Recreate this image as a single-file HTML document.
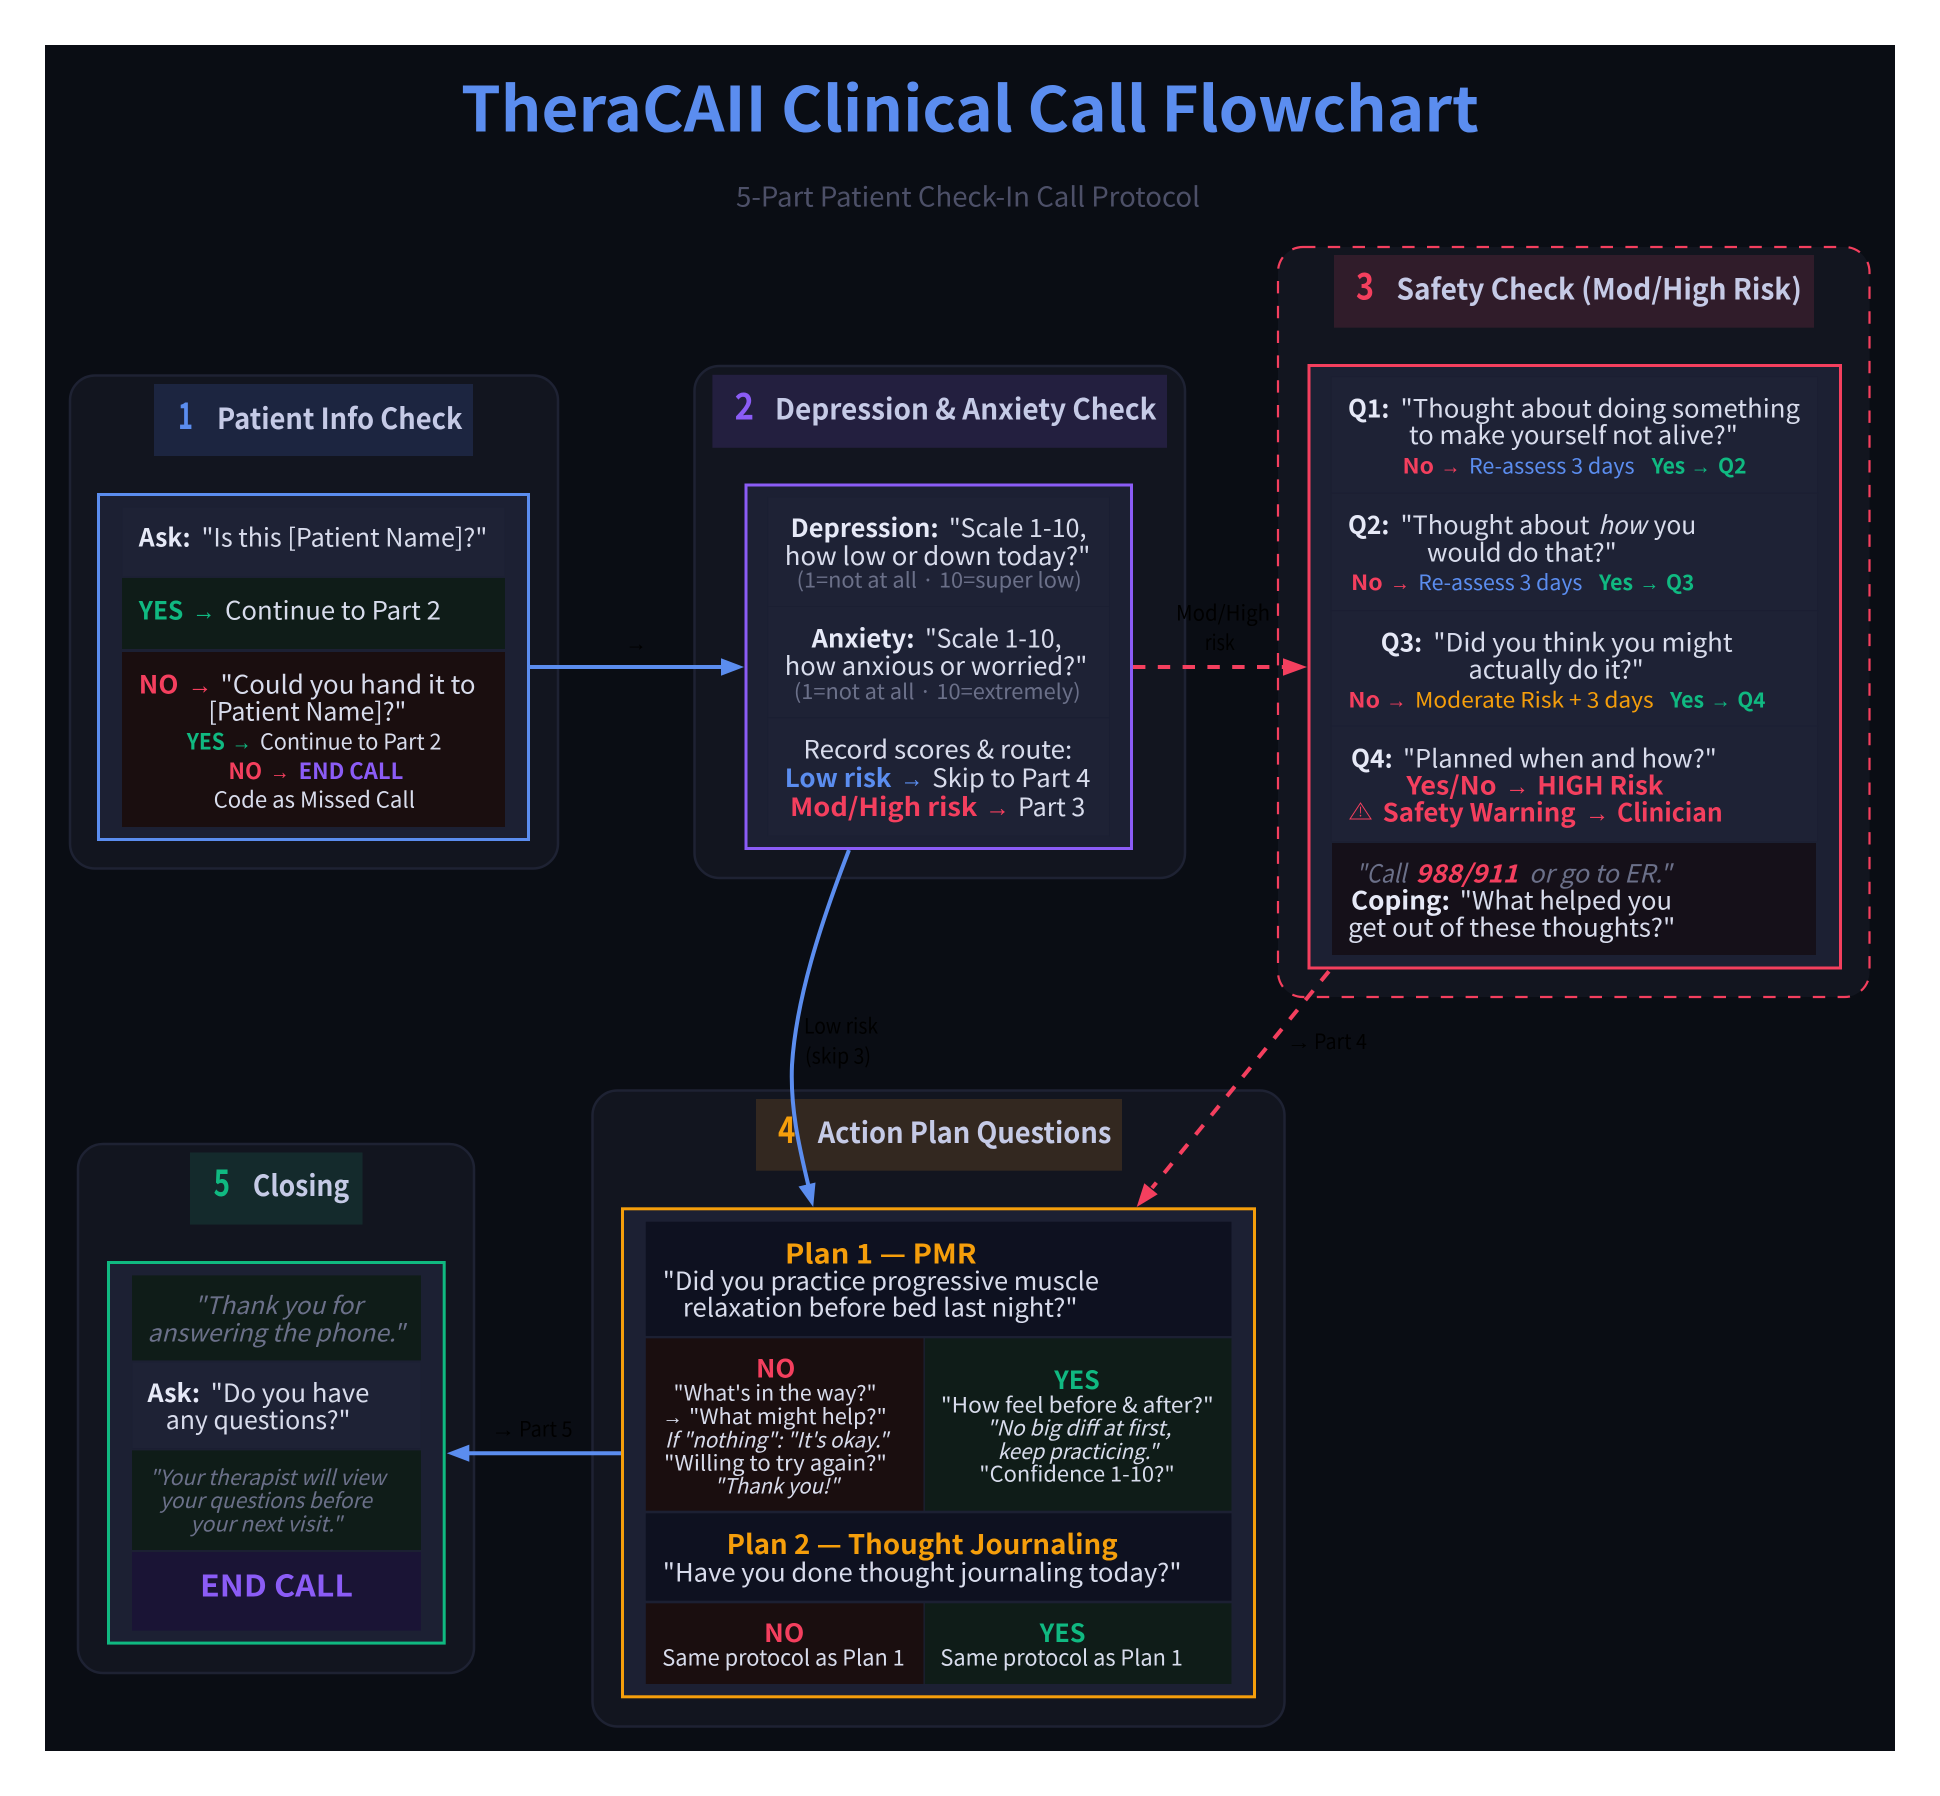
<!DOCTYPE html>
<html><head><meta charset="utf-8"><title>TheraCAII Clinical Call Flowchart</title>
<style>
html,body{margin:0;padding:0;background:#fff}
svg{display:block}
text{font-family:"Noto Sans CJK JP","Liberation Sans",sans-serif;font-size:25px;fill:#d8dcec;white-space:pre;transform:translateY(.6px)}
.b{font-weight:700;fill:#e6e9f7}
.i{font-style:italic}
.s{font-size:22px}
.t{font-size:21px}
.h{font-size:29px;font-weight:700;fill:#c5cae6}
.n{font-size:37px;font-weight:700}
.a{font-family:"Liberation Sans",sans-serif}
.g{fill:#6b7089}
.R{fill:#f43f5e;font-weight:700}
.G{fill:#10b981;font-weight:700}
.P{fill:#8b5cf6;font-weight:700}
.O{fill:#f59e0b;font-weight:700}
.BL{fill:#5b8def;font-weight:700}
.ar{fill:#f43f5e}.ag{fill:#10b981}.ab{fill:#5b8def}
.rb{fill:#5b8def}.ro{fill:#f59e0b}
.e{font-size:21px;fill:#000}
.cl{fill:#12151f;stroke:#1e2233;stroke-width:2.5}
.cell{fill:#1e2235;stroke:#1b1f32;stroke-width:1}
</style></head><body>
<svg xmlns="http://www.w3.org/2000/svg" width="1940" height="1796" viewBox="0 0 1940 1796">
<rect x="0" y="0" width="1940" height="1796" fill="#fff"/>
<rect x="45" y="45" width="1850" height="1706" fill="#0a0d14"/>

<text x="461" y="131" textLength="1018" lengthAdjust="spacingAndGlyphs" style="font-size:62px;font-weight:700;fill:#5b8def">TheraCAII Clinical Call Flowchart</text>
<text x="736" y="205.7" textLength="464" lengthAdjust="spacingAndGlyphs" style="font-size:27px;fill:#4d5068">5-Part Patient Check-In Call Protocol</text>

<!-- Panel 1 -->
<rect class="cl" x="70" y="375.5" width="488" height="493" rx="25"/>
<rect x="154" y="384" width="319" height="72" fill="#1c2540"/>
<text class="n" x="178" y="428.5" textLength="15" lengthAdjust="spacingAndGlyphs" style="fill:#5b8def">1</text>
<text class="h" x="217" y="428.5" textLength="245.5" lengthAdjust="spacingAndGlyphs">Patient Info Check</text>
<rect x="98.5" y="494.5" width="430" height="345" fill="#1c2033" stroke="#5b8def" stroke-width="3"/>
<rect class="cell" x="122" y="507" width="383" height="70"/>
<rect x="122" y="578" width="383" height="71" fill="#0f1c18"/>
<rect x="122" y="652" width="383" height="175" fill="#1a0e0f"/>
<text class="b" x="138.8" y="546" textLength="51.7" lengthAdjust="spacingAndGlyphs">Ask:</text>
<text x="201.5" y="546" textLength="285.8" lengthAdjust="spacingAndGlyphs">"Is this [Patient Name]?"</text>
<text class="G" x="138.8" y="618.7" textLength="44.5" lengthAdjust="spacingAndGlyphs">YES</text>
<text class="a ag" x="192.3" y="618.7" textLength="23.2" lengthAdjust="spacingAndGlyphs">→</text>
<text x="225" y="618.7" textLength="215.9" lengthAdjust="spacingAndGlyphs">Continue to Part 2</text>
<text class="R" x="138.8" y="692.7" textLength="39.6" lengthAdjust="spacingAndGlyphs">NO</text>
<text class="a ar" x="187.9" y="692.7" textLength="24.3" lengthAdjust="spacingAndGlyphs">→</text>
<text x="220.5" y="692.7" textLength="255.1" lengthAdjust="spacingAndGlyphs">"Could you hand it to</text>
<text x="208.4" y="720" textLength="198" lengthAdjust="spacingAndGlyphs">[Patient Name]?"</text>
<text class="G s" x="186.7" y="749" textLength="38.2" lengthAdjust="spacingAndGlyphs">YES</text>
<text class="a ag s" x="231.6" y="749" textLength="20" lengthAdjust="spacingAndGlyphs">→</text>
<text class="s" x="260" y="749" textLength="181.5" lengthAdjust="spacingAndGlyphs">Continue to Part 2</text>
<text class="R s" x="228.4" y="778.3" textLength="33.7" lengthAdjust="spacingAndGlyphs">NO</text>
<text class="a ar s" x="270" y="778.3" textLength="19.6" lengthAdjust="spacingAndGlyphs">→</text>
<text class="P s" x="298.6" y="778.3" textLength="104.7" lengthAdjust="spacingAndGlyphs">END CALL</text>
<text class="s" x="213.6" y="807" textLength="201.4" lengthAdjust="spacingAndGlyphs">Code as Missed Call</text>

<!-- Panel 2 -->
<rect class="cl" x="694.5" y="366" width="490.5" height="512" rx="25"/>
<rect x="712.4" y="374.8" width="454.6" height="73" fill="#231f3f"/>
<text class="n" x="734.6" y="418.7" textLength="19.4" lengthAdjust="spacingAndGlyphs" style="fill:#8b5cf6">2</text>
<text class="h" x="775" y="418.7" textLength="381.5" lengthAdjust="spacingAndGlyphs">Depression &amp; Anxiety Check</text>
<rect x="746" y="485" width="385.5" height="363.5" fill="#1c2033" stroke="#8b5cf6" stroke-width="3"/>
<rect class="cell" x="767.8" y="497" width="341.6" height="109.5"/>
<rect class="cell" x="767.8" y="606.5" width="341.6" height="111.3"/>
<rect class="cell" x="767.8" y="717.8" width="341.6" height="118.2"/>
<text class="b" x="790.7" y="536.6" textLength="147.9" lengthAdjust="spacingAndGlyphs">Depression:</text>
<text x="948.9" y="536.6" textLength="137.6" lengthAdjust="spacingAndGlyphs">"Scale 1-10,</text>
<text x="784.8" y="564.2" textLength="305.6" lengthAdjust="spacingAndGlyphs">how low or down today?"</text>
<text class="t g" x="796.6" y="587" textLength="285.1" lengthAdjust="spacingAndGlyphs">(1=not at all · 10=super low)</text>
<text class="b" x="811.7" y="646.8" textLength="102.8" lengthAdjust="spacingAndGlyphs">Anxiety:</text>
<text x="925" y="646.8" textLength="136.6" lengthAdjust="spacingAndGlyphs">"Scale 1-10,</text>
<text x="784.8" y="674.4" textLength="302.5" lengthAdjust="spacingAndGlyphs">how anxious or worried?"</text>
<text class="t g" x="793.9" y="698.5" textLength="286.7" lengthAdjust="spacingAndGlyphs">(1=not at all · 10=extremely)</text>
<text x="803.4" y="757.7" textLength="268.8" lengthAdjust="spacingAndGlyphs">Record scores &amp; route:</text>
<text class="BL" x="784.8" y="786.6" textLength="106.7" lengthAdjust="spacingAndGlyphs">Low risk</text>
<text class="a ab" x="900.4" y="786.6" textLength="23" lengthAdjust="spacingAndGlyphs">→</text>
<text x="932.3" y="786.6" textLength="158.1" lengthAdjust="spacingAndGlyphs">Skip to Part 4</text>
<text class="R" x="790" y="815.6" textLength="187.4" lengthAdjust="spacingAndGlyphs">Mod/High risk</text>
<text class="a ar" x="985.2" y="815.6" textLength="24.6" lengthAdjust="spacingAndGlyphs">→</text>
<text x="1018" y="815.6" textLength="67.3" lengthAdjust="spacingAndGlyphs">Part 3</text>

<!-- Panel 3 -->
<rect x="1278" y="247" width="591.5" height="750" rx="25" fill="#12151f" stroke="#f43f5e" stroke-width="2.2" stroke-dasharray="12.4 12.4"/>
<rect x="1334" y="255" width="480" height="72.7" fill="#301c2a"/>
<text class="n" x="1356" y="298.8" textLength="18" lengthAdjust="spacingAndGlyphs" style="fill:#f43f5e">3</text>
<text class="h" x="1396.5" y="298.8" textLength="405.3" lengthAdjust="spacingAndGlyphs">Safety Check (Mod/High Risk)</text>
<rect x="1309" y="365.5" width="531.5" height="602.5" fill="#1c2033" stroke="#f43f5e" stroke-width="3"/>
<rect class="cell" x="1331.3" y="376.7" width="486.3" height="116.6"/>
<rect class="cell" x="1331.3" y="493.3" width="486.3" height="117.4"/>
<rect class="cell" x="1331.3" y="610.7" width="486.3" height="115.3"/>
<rect class="cell" x="1331.3" y="726" width="486.3" height="115.7"/>
<rect x="1332" y="843" width="484" height="112" fill="#151019"/>

<text class="b" x="1348" y="416.7" textLength="41.4" lengthAdjust="spacingAndGlyphs">Q1:</text>
<text x="1400.5" y="416.7" textLength="399.5" lengthAdjust="spacingAndGlyphs">"Thought about doing something</text>
<text x="1409" y="443.3" textLength="328.8" lengthAdjust="spacingAndGlyphs">to make yourself not alive?"</text>
<text class="R t" x="1402.5" y="472.7" textLength="31.5" lengthAdjust="spacingAndGlyphs">No</text>
<text class="a ar t" x="1440.4" y="472.7" textLength="20" lengthAdjust="spacingAndGlyphs">→</text>
<text class="rb t" x="1469" y="472.7" textLength="165.6" lengthAdjust="spacingAndGlyphs">Re-assess 3 days</text>
<text class="G t" x="1651.6" y="472.7" textLength="33.6" lengthAdjust="spacingAndGlyphs">Yes</text>
<text class="a ag t" x="1690.4" y="472.7" textLength="20.3" lengthAdjust="spacingAndGlyphs">→</text>
<text class="G t" x="1718" y="472.7" textLength="28.5" lengthAdjust="spacingAndGlyphs">Q2</text>

<text class="b" x="1348" y="533.3" textLength="41.4" lengthAdjust="spacingAndGlyphs">Q2:</text>
<text x="1400.5" y="533.3" textLength="189" lengthAdjust="spacingAndGlyphs">"Thought about</text>
<text class="i" x="1598.2" y="533.3" textLength="48.2" lengthAdjust="spacingAndGlyphs">how</text>
<text x="1653.6" y="533.3" textLength="42.7" lengthAdjust="spacingAndGlyphs">you</text>
<text x="1427" y="560.7" textLength="189.8" lengthAdjust="spacingAndGlyphs">would do that?"</text>
<text class="R t" x="1351" y="589.3" textLength="31.7" lengthAdjust="spacingAndGlyphs">No</text>
<text class="a ar t" x="1390" y="589.3" textLength="19.7" lengthAdjust="spacingAndGlyphs">→</text>
<text class="rb t" x="1418.3" y="589.3" textLength="164.1" lengthAdjust="spacingAndGlyphs">Re-assess 3 days</text>
<text class="G t" x="1599" y="589.3" textLength="34" lengthAdjust="spacingAndGlyphs">Yes</text>
<text class="a ag t" x="1639.4" y="589.3" textLength="19.8" lengthAdjust="spacingAndGlyphs">→</text>
<text class="G t" x="1666" y="589.3" textLength="28.3" lengthAdjust="spacingAndGlyphs">Q3</text>

<text class="b" x="1380.7" y="650.7" textLength="41.5" lengthAdjust="spacingAndGlyphs">Q3:</text>
<text x="1433.3" y="650.7" textLength="299.3" lengthAdjust="spacingAndGlyphs">"Did you think you might</text>
<text x="1468.5" y="677.7" textLength="175.2" lengthAdjust="spacingAndGlyphs">actually do it?"</text>
<text class="R t" x="1348.3" y="706.7" textLength="31.7" lengthAdjust="spacingAndGlyphs">No</text>
<text class="a ar t" x="1386" y="706.7" textLength="20.4" lengthAdjust="spacingAndGlyphs">→</text>
<text class="ro t" x="1415" y="706.7" textLength="238.6" lengthAdjust="spacingAndGlyphs">Moderate Risk + 3 days</text>
<text class="G t" x="1670" y="706.7" textLength="34" lengthAdjust="spacingAndGlyphs">Yes</text>
<text class="a ag t" x="1710.4" y="706.7" textLength="20.3" lengthAdjust="spacingAndGlyphs">→</text>
<text class="G t" x="1737.4" y="706.7" textLength="28.1" lengthAdjust="spacingAndGlyphs">Q4</text>

<text class="b" x="1351" y="766.7" textLength="41.6" lengthAdjust="spacingAndGlyphs">Q4:</text>
<text x="1403" y="766.7" textLength="313.8" lengthAdjust="spacingAndGlyphs">"Planned when and how?"</text>
<text class="R" x="1406.4" y="794" textLength="90.2" lengthAdjust="spacingAndGlyphs">Yes/No</text>
<text class="a ar" x="1505.3" y="794" textLength="24" lengthAdjust="spacingAndGlyphs">→</text>
<text class="R" x="1537.3" y="794" textLength="126.1" lengthAdjust="spacingAndGlyphs">HIGH Risk</text>
<path d="M1360.5,803 L1371,819 L1350,819 Z" fill="none" stroke="#f43f5e" stroke-width="1"/>
<text x="1358.6" y="816" style="font-size:13px;fill:#f43f5e" textLength="3.8" lengthAdjust="spacingAndGlyphs">!</text>
<text class="R" x="1382.7" y="820.7" textLength="193" lengthAdjust="spacingAndGlyphs">Safety Warning</text>
<text class="a ar" x="1585.2" y="820.7" textLength="23.9" lengthAdjust="spacingAndGlyphs">→</text>
<text class="R" x="1617" y="820.7" textLength="105.7" lengthAdjust="spacingAndGlyphs">Clinician</text>

<text class="i g" x="1355.8" y="881.7" textLength="50.6" lengthAdjust="spacingAndGlyphs">"Call</text>
<text class="R i" x="1415.5" y="881.7" textLength="102.5" lengthAdjust="spacingAndGlyphs">988/911</text>
<text class="i g" x="1529" y="881.7" textLength="142.3" lengthAdjust="spacingAndGlyphs">or go to ER."</text>
<text class="b" x="1351" y="909" textLength="99" lengthAdjust="spacingAndGlyphs">Coping:</text>
<text x="1459.8" y="909" textLength="212.2" lengthAdjust="spacingAndGlyphs">"What helped you</text>
<text x="1348" y="935.7" textLength="327.3" lengthAdjust="spacingAndGlyphs">get out of these thoughts?"</text>

<!-- Panel 4 -->
<rect class="cl" x="592.5" y="1090.5" width="692" height="636" rx="25"/>
<rect x="756" y="1099" width="366" height="71.7" fill="#332820"/>
<text class="n" x="778" y="1142.2" textLength="17.4" lengthAdjust="spacingAndGlyphs" style="fill:#f59e0b">4</text>
<text class="h" x="817.7" y="1142.2" textLength="293.7" lengthAdjust="spacingAndGlyphs">Action Plan Questions</text>
<rect x="622.5" y="1208.8" width="632" height="488" fill="#1c2033" stroke="#f59e0b" stroke-width="3"/>
<rect x="645.8" y="1221.7" width="585.7" height="114.3" fill="#0e1120"/>
<rect x="645.8" y="1338.3" width="277.7" height="172.4" fill="#1a0e0f"/>
<rect x="924.8" y="1338.3" width="306.7" height="172.4" fill="#0f1c18"/>
<rect x="645.8" y="1513.3" width="585.7" height="87.4" fill="#0e1120"/>
<rect x="645.8" y="1603.3" width="277.7" height="80.7" fill="#1a0e0f"/>
<rect x="924.8" y="1603.3" width="306.7" height="80.7" fill="#0f1c18"/>

<text class="O" x="785" y="1262.7" textLength="191.6" lengthAdjust="spacingAndGlyphs" style="font-size:27px">Plan 1 — PMR</text>
<text x="662.8" y="1289.3" textLength="436.2" lengthAdjust="spacingAndGlyphs">"Did you practice progressive muscle</text>
<text x="682.9" y="1316" textLength="394.6" lengthAdjust="spacingAndGlyphs">relaxation before bed last night?"</text>
<text class="R" x="756" y="1376.7" textLength="39.4" lengthAdjust="spacingAndGlyphs">NO</text>
<text class="t" x="673.5" y="1400" textLength="203.1" lengthAdjust="spacingAndGlyphs">"What's in the way?"</text>
<text class="a t" x="662.3" y="1423.3" textLength="20.5" lengthAdjust="spacingAndGlyphs">→</text>
<text class="t" x="689" y="1423.3" textLength="197.9" lengthAdjust="spacingAndGlyphs">"What might help?"</text>
<text class="t i" x="665" y="1446.7" textLength="223.2" lengthAdjust="spacingAndGlyphs">If "nothing": "It's okay."</text>
<text class="t" x="664" y="1470" textLength="222.9" lengthAdjust="spacingAndGlyphs">"Willing to try again?"</text>
<text class="t i" x="714" y="1492.7" textLength="125" lengthAdjust="spacingAndGlyphs">"Thank you!"</text>
<text class="G" x="1054.3" y="1388.3" textLength="45.5" lengthAdjust="spacingAndGlyphs">YES</text>
<text class="t" x="940.9" y="1411.7" textLength="272.8" lengthAdjust="spacingAndGlyphs">"How feel before &amp; after?"</text>
<text class="t i" x="986.4" y="1435" textLength="184.9" lengthAdjust="spacingAndGlyphs">"No big diff at first,</text>
<text class="t i" x="997.6" y="1458.3" textLength="160.3" lengthAdjust="spacingAndGlyphs">keep practicing."</text>
<text class="t" x="979.3" y="1481" textLength="195.5" lengthAdjust="spacingAndGlyphs">"Confidence 1-10?"</text>
<text class="O" x="726.6" y="1553.3" textLength="391.1" lengthAdjust="spacingAndGlyphs" style="font-size:27px">Plan 2 — Thought Journaling</text>
<text x="662.8" y="1580.7" textLength="518.7" lengthAdjust="spacingAndGlyphs">"Have you done thought journaling today?"</text>
<text class="R" x="764" y="1641.3" textLength="40.3" lengthAdjust="spacingAndGlyphs">NO</text>
<text class="s" x="662.3" y="1665" textLength="242.4" lengthAdjust="spacingAndGlyphs">Same protocol as Plan 1</text>
<text class="G" x="1039.6" y="1641.3" textLength="45.9" lengthAdjust="spacingAndGlyphs">YES</text>
<text class="s" x="940.4" y="1665" textLength="242.5" lengthAdjust="spacingAndGlyphs">Same protocol as Plan 1</text>

<!-- Panel 5 -->
<rect class="cl" x="78" y="1144" width="396" height="529" rx="25"/>
<rect x="190" y="1152.5" width="172.5" height="72.1" fill="#142a2c"/>
<text class="n" x="213.6" y="1195.5" textLength="16.4" lengthAdjust="spacingAndGlyphs" style="fill:#10b981">5</text>
<text class="h" x="252.9" y="1195.5" textLength="96.4" lengthAdjust="spacingAndGlyphs">Closing</text>
<rect x="108.5" y="1262.5" width="335.7" height="380.6" fill="#1c2033" stroke="#10b981" stroke-width="3"/>
<rect x="132" y="1275.4" width="289" height="85" fill="#0f1c18"/>
<rect class="cell" x="132" y="1362" width="289" height="86.6"/>
<rect x="132" y="1450.4" width="289" height="99.6" fill="#0f1c18"/>
<rect x="132" y="1552" width="289" height="78.7" fill="#1a1435"/>
<text class="i g s" x="194" y="1313.2" textLength="168.5" lengthAdjust="spacingAndGlyphs" style="font-size:24px">"Thank you for</text>
<text class="i g s" x="147.5" y="1340.7" textLength="257.1" lengthAdjust="spacingAndGlyphs" style="font-size:24px">answering the phone."</text>
<text class="b" x="147.5" y="1401.4" textLength="52.5" lengthAdjust="spacingAndGlyphs">Ask:</text>
<text x="210.7" y="1401.4" textLength="158.6" lengthAdjust="spacingAndGlyphs">"Do you have</text>
<text x="165.7" y="1428.2" textLength="184.7" lengthAdjust="spacingAndGlyphs">any questions?"</text>
<text class="i g t" x="149.3" y="1484.3" textLength="236.4" lengthAdjust="spacingAndGlyphs">"Your therapist will view</text>
<text class="i g t" x="160" y="1507.5" textLength="211.8" lengthAdjust="spacingAndGlyphs">your questions before</text>
<text class="i g t" x="190.4" y="1530.7" textLength="151.6" lengthAdjust="spacingAndGlyphs">your next visit."</text>
<text class="P" x="200" y="1596" textLength="152.9" lengthAdjust="spacingAndGlyphs" style="font-size:30px">END CALL</text>

<!-- Edges -->
<path d="M530,667 L724,667" stroke="#5b8def" stroke-width="4" fill="none"/>
<path d="M721,658.3 L744,667 L721,675.7 Z" fill="#5b8def"/>
<text class="a e" x="625.2" y="650" textLength="21.6" lengthAdjust="spacingAndGlyphs">→</text>

<path d="M1133,667 L1286,667" stroke="#f43f5e" stroke-width="4" fill="none" stroke-dasharray="12.4 12.4"/>
<path d="M1283,658.3 L1307,667 L1283,675.7 Z" fill="#f43f5e"/>
<text class="e" x="1176" y="620" textLength="94" lengthAdjust="spacingAndGlyphs">Mod/High</text>
<text class="e" x="1204.7" y="649.6" textLength="30.1" lengthAdjust="spacingAndGlyphs">risk</text>

<path d="M849,850 C 820,925 796,1000 792,1065 C 790,1110 800,1150 808.5,1186" stroke="#5b8def" stroke-width="4" fill="none"/>
<path d="M798.5,1186.5 L815.5,1182.5 L813.2,1207 Z" fill="#5b8def"/>
<text class="e" x="804" y="1033" textLength="74" lengthAdjust="spacingAndGlyphs">Low risk</text>
<text class="e" x="805" y="1063" textLength="66" lengthAdjust="spacingAndGlyphs">(skip 3)</text>

<path d="M1330,970 L1152,1188" stroke="#f43f5e" stroke-width="4" fill="none" stroke-dasharray="12.4 12.4" stroke-dashoffset="-1.7"/>
<path d="M1157.7,1194.3 L1144.3,1183.3 L1136.7,1207 Z" fill="#f43f5e"/>
<text class="a e" x="1286.7" y="1048.3" textLength="24.3" lengthAdjust="spacingAndGlyphs">→</text>
<text class="e" x="1314" y="1048.3" textLength="52.9" lengthAdjust="spacingAndGlyphs">Part 4</text>

<path d="M621,1453.2 L465,1453.2" stroke="#5b8def" stroke-width="4" fill="none"/>
<path d="M469.3,1444.6 L446.8,1453.2 L469.3,1461.8 Z" fill="#5b8def"/>
<text class="a e" x="490.9" y="1436" textLength="24.3" lengthAdjust="spacingAndGlyphs">→</text>
<text class="e" x="519" y="1436" textLength="53.5" lengthAdjust="spacingAndGlyphs">Part 5</text>
</svg>
</body></html>
